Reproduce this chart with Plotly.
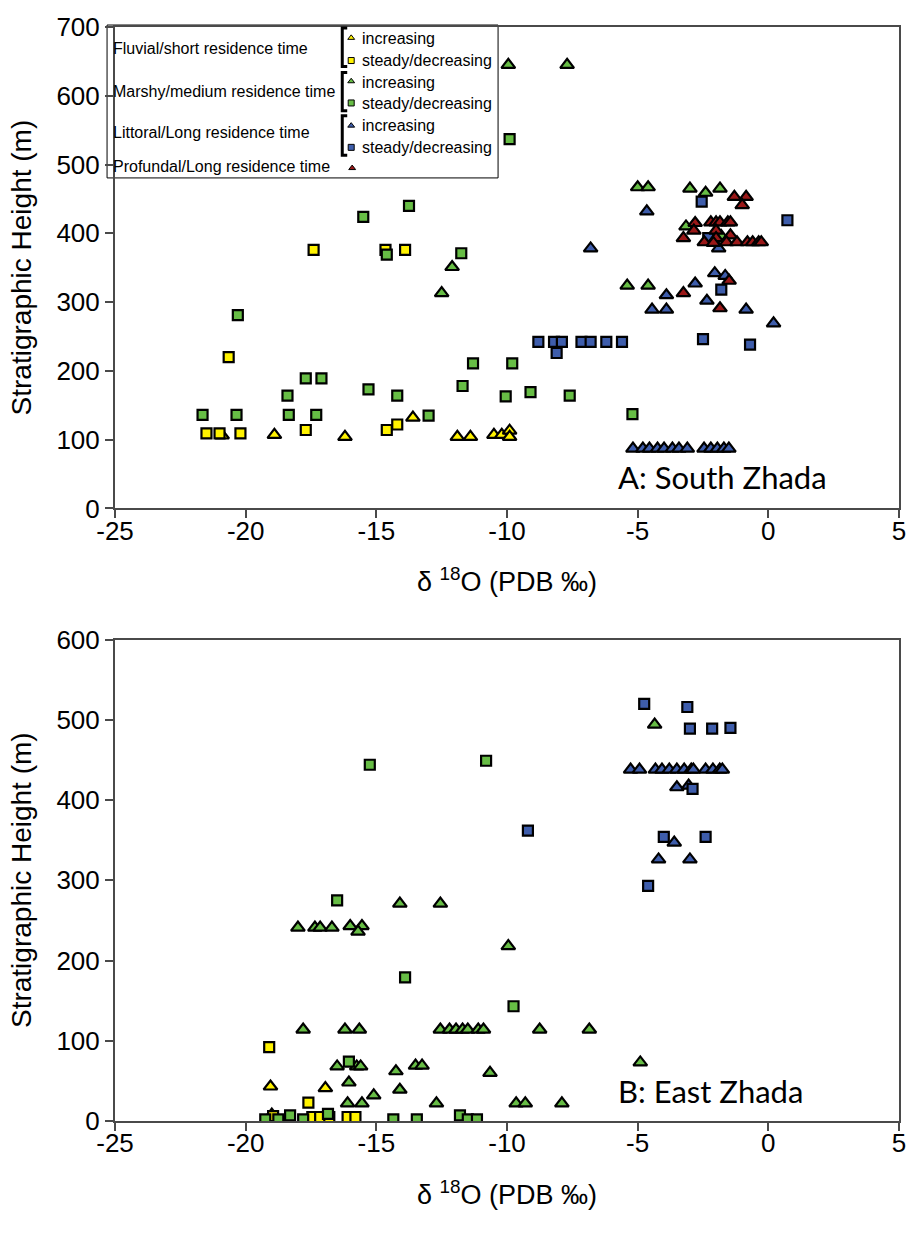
import plotly.graph_objects as go

# ------------------------- DATA -------------------------
# Panel A: South Zhada  (x = d18O PDB permil, y = stratigraphic height m)
A_fluv_inc_x = [-20.9, -18.9, -16.2, -13.6, -11.9, -11.4, -10.5, -10.2, -9.9, -9.9]
A_fluv_inc_y = [106, 107, 104, 132, 104, 104, 107, 107, 113, 104]
A_fluv_dec_x = [-20.65, -21.5, -21.0, -20.2, -17.7, -14.6, -14.2, -17.4, -14.65, -13.9]
A_fluv_dec_y = [220, 109, 109, 109, 114, 114, 122, 376, 376, 376]
A_marsh_inc_x = [-9.95, -7.7, -12.1, -12.5, -5.0, -4.6, -3.0, -2.4, -1.85, -3.15, -5.4, -4.6, -1.8]
A_marsh_inc_y = [645, 645, 351, 313, 467, 467, 465, 459, 465, 410, 324, 324, 396]
A_marsh_dec_x = [-9.9, -13.75, -15.5, -14.6, -11.75, -20.3, -11.3, -9.8, -17.7, -17.1, -18.4, -15.3,
                 -14.2, -11.7, -10.05, -9.1, -7.6, -21.65, -20.35, -18.35, -17.3, -13.0, -5.2]
A_marsh_dec_y = [537, 440, 424, 369, 371, 281, 211, 211, 189, 189, 164, 173,
                 164, 178, 163, 169, 164, 136, 136, 136, 136, 135, 137]
A_litt_inc_x = [-6.8, -4.65, -2.05, -1.65, -2.8, -3.9, -2.35, -4.45, -3.9, -0.85, 0.2, -1.9,
                -5.18, -4.8, -4.55, -4.24, -3.99, -3.67, -3.42, -3.1, -2.46, -2.2, -1.95, -1.7, -1.51]
A_litt_inc_y = [378, 432, 342, 338, 327, 310, 302, 289, 289, 289, 269, 378,
                87, 87, 87, 87, 87, 87, 87, 87, 87, 87, 87, 87, 87]
A_litt_dec_x = [-8.8, -8.2, -7.9, -7.15, -6.8, -6.2, -5.6, -8.1, -2.55, 0.73, -1.8, -2.5, -0.7, -2.3]
A_litt_dec_y = [242, 242, 242, 242, 242, 242, 242, 226, 446, 419, 318, 246, 238, 393]
A_prof_inc_x = [-1.3, -0.85, -1.0, -2.8, -2.85, -3.25, -2.2, -2.0, -1.85, -1.55, -1.45, -2.0, -1.45,
                -2.0, -2.45, -2.1, -1.6, -1.2, -0.8, -0.6, -0.37, -0.27, -3.25, -1.5, -1.85]
A_prof_inc_y = [453, 453, 441, 415, 404, 393, 416, 416, 416, 416, 416, 404, 397,
                393, 387, 386, 387, 387, 387, 387, 387, 387, 313, 331, 291]

# Panel B: East Zhada
B_fluv_inc_x = [-19.05, -16.95, -19.0]
B_fluv_inc_y = [43, 41, 8]
B_fluv_dec_x = [-19.1, -17.6, -18.95, -17.45, -17.15, -16.8, -16.1, -15.8]
B_fluv_dec_y = [92, 23, 6, 5, 5, 5, 5, 5]
B_marsh_inc_x = [-4.35, -4.9, -9.95, -14.1, -12.55, -18.0, -17.35, -17.15, -16.7, -16.0, -15.55, -15.7,
                 -17.8, -16.2, -15.65, -12.55, -12.2, -11.95, -11.7, -11.5, -11.1, -10.9, -8.75, -6.85,
                 -16.5, -15.75, -15.6, -14.25, -13.5, -13.25, -10.65,
                 -16.05, -14.1, -15.1, -16.1, -15.55, -12.7, -9.65, -9.3, -7.9]
B_marsh_inc_y = [494, 73, 218, 271, 271, 241, 241, 241, 241, 243, 243, 236,
                 114, 114, 114, 114, 114, 114, 114, 114, 114, 114, 114, 114,
                 68, 68, 68, 62, 69, 69, 60,
                 48, 39, 32, 22, 22, 22, 22, 22, 22]
B_marsh_dec_x = [-15.25, -10.8, -16.5, -13.9, -9.75, -16.05, -19.25, -18.75, -18.3, -17.8, -16.85,
                 -14.35, -13.45, -11.8, -11.5, -11.15]
B_marsh_dec_y = [444, 449, 275, 179, 143, 74, 2, 2, 7, 2, 9, 2, 2, 7, 2, 2]
B_litt_inc_x = [-5.27, -4.93, -4.32, -4.07, -3.79, -3.5, -3.22, -2.95, -2.87, -2.4, -2.12, -1.86, -1.76,
                -3.5, -3.05, -3.6, -4.2, -3.0]
B_litt_inc_y = [438, 438, 438, 438, 438, 438, 438, 438, 438, 438, 438, 438, 438,
                416, 418, 347, 326, 326]
B_litt_dec_x = [-4.75, -3.1, -3.0, -2.15, -1.45, -2.9, -4.0, -2.4, -4.6, -9.2]
B_litt_dec_y = [520, 516, 489, 489, 490, 414, 354, 354, 293, 362]

X_TICKS = [-25, -20, -15, -10, -5, 0, 5]
X_TICK_TEXT = ["-25", "-20", "-15", "-10", "-5", "0", "5"]
A_Y_TICKS = [0, 100, 200, 300, 400, 500, 600, 700]
B_Y_TICKS = [0, 100, 200, 300, 400, 500, 600]

GROUP_LABELS = ["Fluvial/short residence time", "Marshy/medium residence time",
                "Littoral/Long residence time", "Profundal/Long residence time"]
ITEM_LABELS = ["increasing", "steady/decreasing"]

# ------------------------- STYLE / LAYOUT -------------------------
YELLOW, GREEN, BLUE, RED = "#FFF200", "#67BD45", "#3E5DAB", "#9A1818"
AXC = "#4a4a4a"
FONT = "Liberation Sans, Arial, sans-serif"
W, H = 918, 1239
L_PX, R_PX = 115, 905
TOP_A, BOT_A = 12, 500
TOP_B, BOT_B = 633, 1121
PLOT_H = BOT_B - TOP_A


def pxx(px):
    return (px - L_PX) / (R_PX - L_PX)


def pxy(py):
    return (BOT_B - py) / PLOT_H


fig = go.Figure()

series = [
    ("fluv_inc", "triangle-up", YELLOW), ("fluv_dec", "square", YELLOW),
    ("marsh_inc", "triangle-up", GREEN), ("marsh_dec", "square", GREEN),
    ("litt_inc", "triangle-up", BLUE), ("litt_dec", "square", BLUE),
    ("prof_inc", "triangle-up", RED),
]
data = {
    "A": {"fluv_inc": (A_fluv_inc_x, A_fluv_inc_y), "fluv_dec": (A_fluv_dec_x, A_fluv_dec_y),
          "marsh_inc": (A_marsh_inc_x, A_marsh_inc_y), "marsh_dec": (A_marsh_dec_x, A_marsh_dec_y),
          "litt_inc": (A_litt_inc_x, A_litt_inc_y), "litt_dec": (A_litt_dec_x, A_litt_dec_y),
          "prof_inc": (A_prof_inc_x, A_prof_inc_y)},
    "B": {"fluv_inc": (B_fluv_inc_x, B_fluv_inc_y), "fluv_dec": (B_fluv_dec_x, B_fluv_dec_y),
          "marsh_inc": (B_marsh_inc_x, B_marsh_inc_y), "marsh_dec": (B_marsh_dec_x, B_marsh_dec_y),
          "litt_inc": (B_litt_inc_x, B_litt_inc_y), "litt_dec": (B_litt_dec_x, B_litt_dec_y)},
}

for panel, xa, ya in [("A", "x", "y"), ("B", "x2", "y2")]:
    for key, sym, col in series:
        if key not in data[panel]:
            continue
        xs, ys = data[panel][key]
        fig.add_trace(go.Scatter(
            x=xs, y=ys, mode="markers", xaxis=xa, yaxis=ya, showlegend=False,
            marker=dict(symbol=sym, color=col, size=12 if sym == "triangle-up" else 10,
                        line=dict(color="black", width=2.2)),
            hoverinfo="skip"))

# legend key markers (pixel-coordinate overlay axes)
key_px_x = [353, 353, 353, 353, 353, 353, 354]
key_px_y = [23, 46, 67, 89, 112, 134, 155]
fig.add_trace(go.Scatter(
    x=key_px_x, y=key_px_y, mode="markers", xaxis="x3", yaxis="y3", showlegend=False,
    marker=dict(symbol=[s for _, s, _ in series], color=[c for _, _, c in series],
                size=6, line=dict(color="black", width=1)),
    cliponaxis=False, hoverinfo="skip"))

axis_common = dict(showline=True, linecolor=AXC, linewidth=2, mirror=True, ticks="outside",
                   ticklen=8, tickwidth=1.5, tickcolor=AXC, showgrid=False, zeroline=False,
                   tickfont=dict(family=FONT, size=26, color="black"))

fig.update_layout(
    width=W, height=H, margin=dict(l=L_PX, r=W - R_PX, t=TOP_A, b=H - BOT_B),
    paper_bgcolor="white", plot_bgcolor="rgba(0,0,0,0)",
    xaxis=dict(axis_common, range=[-25, 5], tickvals=X_TICKS, ticktext=X_TICK_TEXT,
               anchor="y", domain=[0, 1], ticklabelstandoff=-10),
    yaxis=dict(axis_common, range=[0, 700], tickvals=A_Y_TICKS, anchor="x",
               domain=[pxy(BOT_A), 1]),
    xaxis2=dict(axis_common, range=[-25, 5], tickvals=X_TICKS, ticktext=X_TICK_TEXT,
                anchor="y2", domain=[0, 1], ticklabelstandoff=-10),
    yaxis2=dict(axis_common, range=[0, 600], tickvals=B_Y_TICKS, anchor="x2",
                domain=[0, pxy(TOP_B)]),
    xaxis3=dict(visible=False, range=[L_PX, R_PX], domain=[0, 1], anchor="y3", fixedrange=True),
    yaxis3=dict(visible=False, range=[BOT_B, TOP_A], domain=[0, 1], anchor="x3", fixedrange=True),
    showlegend=False,
)

# legend frame and brackets
shapes = [dict(type="rect", xref="paper", yref="paper", x0=pxx(107), x1=pxx(501), y0=pxy(165), y1=pxy(10),
               line=dict(color="black", width=1), fillcolor="white", layer="below")]
for (ya, yb) in [(13, 52), (58, 97), (102, 142)]:
    shapes.append(dict(type="path", xref="paper", yref="paper",
                       path=f"M {pxx(349)},{pxy(ya)} L {pxx(344)},{pxy(ya)} L {pxx(344)},{pxy(yb)} L {pxx(349)},{pxy(yb)}",
                       line=dict(color="black", width=3)))
fig.update_layout(shapes=shapes)

ann = []
for lab, py in zip(GROUP_LABELS, [34, 77, 119, 153]):
    ann.append(dict(text=lab, x=pxx(111), y=pxy(py), xref="paper", yref="paper", xanchor="left",
                    yanchor="middle", showarrow=False, font=dict(family=FONT, size=16, color="black")))
for i, py in enumerate([24, 46, 68, 90, 112, 134]):
    ann.append(dict(text=ITEM_LABELS[i % 2], x=pxx(362), y=pxy(py), xref="paper", yref="paper",
                    xanchor="left", yanchor="middle", showarrow=False,
                    font=dict(family=FONT, size=16, color="black")))
# panel labels
for txt, py in [("A: South Zhada", 468), ("B: East Zhada", 1091)]:
    ann.append(dict(text=txt, x=pxx(620), y=pxy(py), xref="paper", yref="paper", xanchor="left",
                    yanchor="middle", showarrow=False,
                    font=dict(family="Lato, sans-serif", size=31, color="black")))
# axis titles
for py in [573, 1194]:
    ann.append(dict(text="δ <sup>18</sup>O (PDB ‰)", x=pxx(510), y=pxy(py), xref="paper", yref="paper",
                    xanchor="center", yanchor="middle", showarrow=False,
                    font=dict(family=FONT, size=27, color="black")))
for py in [(TOP_A + BOT_A) / 2, (TOP_B + BOT_B) / 2]:
    ann.append(dict(text="Stratigraphic Height (m)", x=pxx(21), y=pxy(py), xref="paper", yref="paper",
                    xanchor="center", yanchor="middle", textangle=-90, showarrow=False,
                    font=dict(family=FONT, size=28, color="black")))
fig.update_layout(annotations=ann)

fig.write_html("out.html")
